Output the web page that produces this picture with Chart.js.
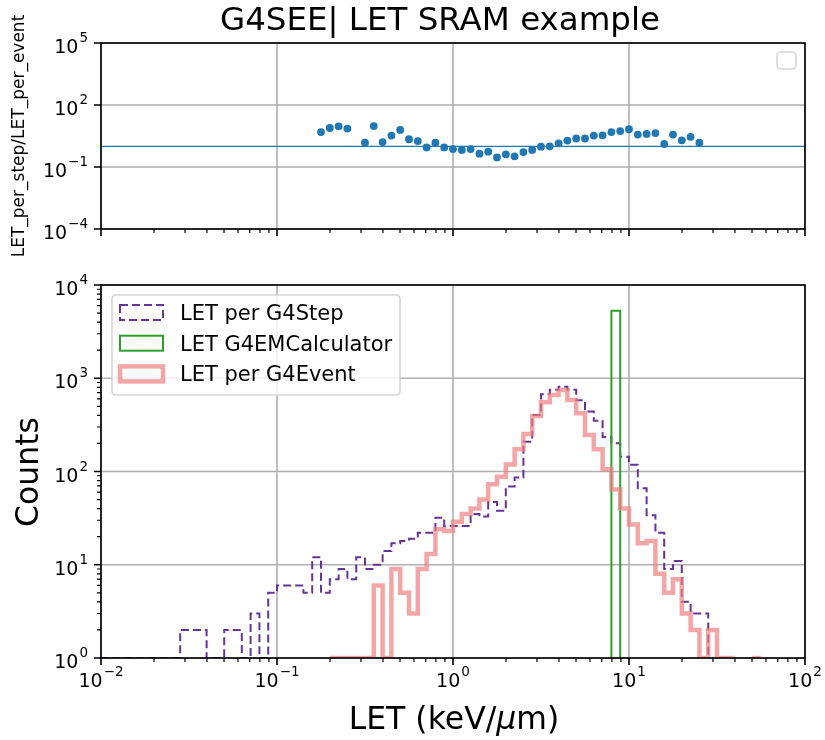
<!DOCTYPE html>
<html>
<head>
<meta charset="utf-8">
<title>G4SEE LET SRAM example</title>
<script src="https://cdn.jsdelivr.net/npm/chart.js@4.4.0/dist/chart.umd.min.js"></script>
<style>
  body { margin: 0; background: #fff; }
  #wrap { position: relative; width: 825px; height: 740px; }
  canvas { position: absolute; left: 0; top: 0; }
</style>
</head>
<body>
<div id="wrap">
  <canvas id="ratioChart" width="825" height="740"></canvas>
  <canvas id="letChart" width="825" height="740"></canvas>
</div>
<script>
// LET histogram bin edges in keV/um (20 log bins per decade)
const binEdges = [
  0.01, 0.01122, 0.01259, 0.01413, 0.01585, 0.01778, 0.01995, 0.02239, 0.02512, 0.02818,
  0.03162, 0.03548, 0.03981, 0.04467, 0.05012, 0.05623, 0.0631, 0.07079, 0.07943, 0.08913,
  0.1, 0.1122, 0.1259, 0.1413, 0.1585, 0.1778, 0.1995, 0.2239, 0.2512, 0.2818,
  0.3162, 0.3548, 0.3981, 0.4467, 0.5012, 0.5623, 0.631, 0.7079, 0.7943, 0.8913,
  1, 1.122, 1.259, 1.413, 1.585, 1.778, 1.995, 2.239, 2.512, 2.818,
  3.162, 3.548, 3.981, 4.467, 5.012, 5.623, 6.31, 7.079, 7.943, 8.913,
  10, 11.22, 12.59, 14.13, 15.85, 17.78, 19.95, 22.39, 25.12, 28.18,
  31.62, 35.48, 39.81, 44.67, 50.12, 56.23, 63.1, 70.79, 79.43, 89.13,
  100
];

// counts per bin, null = empty bin
const stepCounts = [
  1, 1, 1, 1, 1, 1, 1, 1, 1, 2,
  2, 2, 1, 1, 2, 2, 1, 3, 1, 5,
  6, 6, 6, 5, 12, 5, 7, 9, 7, 12,
  9, 10, 14, 17, 18, 19, 22, 22, 32, 26,
  26, 26, 35, 33, 47, 38, 69, 86, 209, 404,
  675, 755, 812, 755, 580, 440, 351, 235, 201, 144,
  118, 66, 34, 22, 9, 11, 4, 3, 3, null,
  null, null, null, null, null, null, null, null, null, null
];
const calcCounts = [
  null, null, null, null, null, null, null, null, null, null,
  null, null, null, null, null, null, null, null, null, null,
  null, null, null, null, null, null, null, null, null, null,
  null, null, null, null, null, null, null, null, null, null,
  null, null, null, null, null, null, null, null, null, null,
  null, null, null, null, null, null, null, null, 5300, null,
  null, null, null, null, null, null, null, null, null, null,
  null, null, null, null, null, null, null, null, null, null
];
const eventCounts = [
  null, null, null, null, null, null, null, null, null, null,
  null, null, null, null, null, null, null, null, null, null,
  null, null, null, null, null, null, 1, 1, 1, 1,
  1, 6, 1, 9, 5, 3, 9, 13, 24, 23,
  29, 35, 40, 50, 73, 88, 119, 173, 252, 394,
  552, 661, 748, 585, 421, 246, 173, 106, 64, 40,
  27, 17, 18, 8, 5, 7, 3, 2, 1, 2,
  1, 1, null, null, 1, null, null, null, null, null
];

// LET_per_step / LET_per_event
const ratioX = [
  0.1778, 0.1995, 0.2239, 0.2512, 0.3162, 0.3548, 0.3981, 0.4467, 0.5012, 0.5623,
  0.631, 0.7079, 0.7943, 0.8913, 1, 1.122, 1.259, 1.413, 1.585, 1.778,
  1.995, 2.239, 2.512, 2.818, 3.162, 3.548, 3.981, 4.467, 5.012, 5.623,
  6.31, 7.079, 7.943, 8.913, 10, 11.22, 12.59, 14.13, 15.85, 17.78,
  19.95, 22.39, 25.12
];
const ratioY = [
  4.9, 7.7, 9.3, 7.2, 1.5, 9.6, 1.6, 3.3, 6.2, 2.2,
  1.8, 0.89, 1.5, 0.89, 0.74, 0.67, 0.74, 0.44, 0.55, 0.29,
  0.41, 0.33, 0.53, 0.67, 0.96, 1.0, 1.4, 1.9, 2.4, 2.4,
  3.3, 3.4, 4.9, 5.5, 6.7, 3.7, 4.0, 4.4, 1.3, 3.7,
  1.95, 2.9, 1.5
];
const ratioRef = 1;

// axis ticks
const letTicks = [0.01, 0.1, 1, 10, 100];
const letTickExp = ['\u22122', '\u22121', '0', '1', '2'];
const ratioTicks = [1e-4, 1e-1, 1e2, 1e5];
const ratioTickExp = ['\u22124', '\u22121', '2', '5'];
const countTicks = [1, 10, 100, 1000, 10000];
const countTickExp = ['0', '1', '2', '3', '4'];

const FONT = '"DejaVu Sans", "Liberation Sans", sans-serif';
const GRID = '#b0b0b0';
const PURPLE = '#663399';
const GREEN = '#2ca02c';
const PINK = 'rgba(240,128,128,0.7)';
const BLUE = '#1f77b4';

// outline of a step histogram; empty bins break the line
function stepOutline(edges, counts) {
  const pts = [];
  counts.forEach((c, i) => {
    if (c == null) return;
    const prev = i > 0 ? counts[i - 1] : null;
    const next = i < counts.length - 1 ? counts[i + 1] : null;
    if (prev == null) pts.push({ x: edges[i], y: 1 });
    pts.push({ x: edges[i], y: c }, { x: edges[i + 1], y: c });
    if (next == null) pts.push({ x: edges[i + 1], y: 1 }, { x: edges[i + 1], y: null });
  });
  return pts;
}

function minorOf(majors) {
  const out = [];
  for (let i = 0; i < majors.length - 1; i++) {
    for (let m = 2; m <= 9; m++) out.push(majors[i] * m);
  }
  return out;
}

// "10" with a raised exponent, mathtext style
function powLabel(ctx, exp, x, y, align) {
  ctx.font = '19px ' + FONT;
  const wb = ctx.measureText('10').width;
  ctx.font = '13.5px ' + FONT;
  const we = ctx.measureText(exp).width;
  const w = wb + we + 1;
  let x0 = x;
  if (align === 'center') x0 = x - w / 2;
  else if (align === 'right') x0 = x - w;
  ctx.textAlign = 'left';
  ctx.textBaseline = 'alphabetic';
  ctx.fillStyle = '#000';
  ctx.font = '19px ' + FONT;
  ctx.fillText('10', x0, y);
  ctx.font = '13.5px ' + FONT;
  ctx.fillText(exp, x0 + wb + 1, y - 11);
}

function roundRect(ctx, x, y, w, h, r) {
  ctx.beginPath();
  ctx.moveTo(x + r, y);
  ctx.arcTo(x + w, y, x + w, y + h, r);
  ctx.arcTo(x + w, y + h, x, y + h, r);
  ctx.arcTo(x, y + h, x, y, r);
  ctx.arcTo(x, y, x + w, y, r);
  ctx.closePath();
}

function axesDecor(cfg) {
  return {
    id: 'axesDecor',
    beforeDatasetsDraw(chart) {
      const { ctx, chartArea: a, scales: { x, y } } = chart;
      ctx.save();
      ctx.strokeStyle = GRID;
      ctx.lineWidth = 1.6;
      ctx.beginPath();
      cfg.xTicks.forEach(v => {
        const px = x.getPixelForValue(v);
        ctx.moveTo(px, a.top); ctx.lineTo(px, a.bottom);
      });
      cfg.yTicks.forEach(v => {
        const py = y.getPixelForValue(v);
        ctx.moveTo(a.left, py); ctx.lineTo(a.right, py);
      });
      ctx.stroke();
      ctx.restore();
    },
    afterDraw(chart) {
      const { ctx, chartArea: a, scales: { x, y } } = chart;
      ctx.save();
      ctx.strokeStyle = '#000';
      // ticks
      ctx.lineWidth = 1.6;
      ctx.beginPath();
      cfg.xTicks.forEach(v => {
        const px = x.getPixelForValue(v);
        ctx.moveTo(px, a.bottom); ctx.lineTo(px, a.bottom + 7);
      });
      cfg.yTicks.forEach(v => {
        const py = y.getPixelForValue(v);
        ctx.moveTo(a.left, py); ctx.lineTo(a.left - 7, py);
      });
      ctx.stroke();
      ctx.lineWidth = 1.2;
      ctx.beginPath();
      minorOf(cfg.xTicks).forEach(v => {
        const px = x.getPixelForValue(v);
        ctx.moveTo(px, a.bottom); ctx.lineTo(px, a.bottom + 4);
      });
      if (cfg.yMinor) {
        minorOf(cfg.yTicks).forEach(v => {
          const py = y.getPixelForValue(v);
          ctx.moveTo(a.left, py); ctx.lineTo(a.left - 4, py);
        });
      }
      ctx.stroke();
      // spines
      ctx.lineWidth = 1.6;
      ctx.strokeRect(a.left, a.top, a.right - a.left, a.bottom - a.top);
      // tick labels
      if (cfg.xExp) {
        cfg.xTicks.forEach((v, i) => powLabel(ctx, cfg.xExp[i], x.getPixelForValue(v), a.bottom + 29, 'center'));
      }
      cfg.yTicks.forEach((v, i) => powLabel(ctx, cfg.yExp[i], a.left - 13, y.getPixelForValue(v) + 10, 'right'));
      if (cfg.extra) cfg.extra(chart);
      ctx.restore();
    }
  };
}

function rotatedText(ctx, text, x, y, size) {
  ctx.save();
  ctx.translate(x, y);
  ctx.rotate(-Math.PI / 2);
  ctx.font = size + 'px ' + FONT;
  ctx.fillStyle = '#000';
  ctx.textAlign = 'center';
  ctx.textBaseline = 'alphabetic';
  ctx.fillText(text, 0, 0);
  ctx.restore();
}

const baseOptions = {
  responsive: false,
  animation: false,
  events: [],
  plugins: { legend: { display: false }, tooltip: { enabled: false } }
};

// upper panel: ratio of the two LET estimates
new Chart(document.getElementById('ratioChart'), {
  type: 'scatter',
  data: {
    datasets: [{
      type: 'line',
      data: [{ x: letTicks[0], y: ratioRef }, { x: letTicks[letTicks.length - 1], y: ratioRef }],
      borderColor: BLUE,
      borderWidth: 1.4,
      pointRadius: 0,
      order: 2
    }, {
      data: ratioX.map((v, i) => ({ x: v, y: ratioY[i] })),
      backgroundColor: BLUE,
      borderWidth: 0,
      pointRadius: 3.9,
      order: 1
    }]
  },
  options: {
    ...baseOptions,
    layout: { padding: { left: 101, right: 20, top: 43, bottom: 511 } },
    scales: {
      x: { type: 'logarithmic', min: 0.01, max: 100, display: false },
      y: { type: 'logarithmic', min: 1e-4, max: 1e5, display: false }
    }
  },
  plugins: [axesDecor({
    xTicks: letTicks, yTicks: ratioTicks, yExp: ratioTickExp, yMinor: false,
    extra(chart) {
      const ctx = chart.ctx;
      ctx.font = '32.5px ' + FONT;
      ctx.fillStyle = '#000';
      ctx.textAlign = 'center';
      ctx.textBaseline = 'alphabetic';
      ctx.fillText('G4SEE| LET SRAM example', 440, 30);
      rotatedText(ctx, 'LET_per_step/LET_per_event', 24, 136, 17);
      // empty legend box
      roundRect(ctx, 777, 52, 19, 17, 4);
      ctx.fillStyle = 'rgba(255,255,255,0.8)';
      ctx.fill();
      ctx.strokeStyle = '#d6d6d6';
      ctx.lineWidth = 1.6;
      ctx.stroke();
    }
  })]
});

// lower panel: LET spectra
new Chart(document.getElementById('letChart'), {
  type: 'line',
  data: {
    datasets: [{
      label: 'LET per G4Step',
      data: stepOutline(binEdges, stepCounts),
      borderColor: PURPLE,
      borderWidth: 2,
      borderDash: [8, 4],
      order: 3
    }, {
      label: 'LET G4EMCalculator',
      data: stepOutline(binEdges, calcCounts),
      borderColor: GREEN,
      borderWidth: 2,
      order: 2
    }, {
      label: 'LET per G4Event',
      data: stepOutline(binEdges, eventCounts),
      borderColor: PINK,
      borderWidth: 4.5,
      order: 1
    }]
  },
  options: {
    ...baseOptions,
    elements: { point: { radius: 0 }, line: { borderJoinStyle: 'miter', tension: 0, fill: false } },
    layout: { padding: { left: 101, right: 20, top: 285, bottom: 82 } },
    scales: {
      x: { type: 'logarithmic', min: 0.01, max: 100, display: false },
      y: { type: 'logarithmic', min: 1, max: 10000, display: false }
    }
  },
  plugins: [axesDecor({
    xTicks: letTicks, xExp: letTickExp, yTicks: countTicks, yExp: countTickExp, yMinor: true,
    extra(chart) {
      const ctx = chart.ctx;
      rotatedText(ctx, 'Counts', 38, 472, 31.5);
      // x axis label with italic mu
      const parts = [['LET (keV/', ''], ['\u03bc', 'italic '], ['m)', '']];
      let total = 0;
      parts.forEach(p => { ctx.font = p[1] + '31.5px ' + FONT; total += ctx.measureText(p[0]).width; });
      let xp = 454 - total / 2;
      ctx.fillStyle = '#000';
      ctx.textAlign = 'left';
      ctx.textBaseline = 'alphabetic';
      parts.forEach(p => {
        ctx.font = p[1] + '31.5px ' + FONT;
        ctx.fillText(p[0], xp, 729);
        xp += ctx.measureText(p[0]).width;
      });
      // legend
      roundRect(ctx, 112, 295, 288, 100, 4);
      ctx.fillStyle = 'rgba(255,255,255,0.8)';
      ctx.fill();
      ctx.strokeStyle = '#d6d6d6';
      ctx.lineWidth = 1.6;
      ctx.setLineDash([]);
      ctx.stroke();
      chart.data.datasets.forEach((ds, i) => {
        const cy = 312.5 + i * 30.7;
        ctx.save();
        ctx.strokeStyle = ds.borderColor;
        ctx.lineWidth = ds.borderWidth;
        ctx.setLineDash(ds.borderDash || []);
        ctx.lineJoin = 'miter';
        ctx.strokeRect(120, cy - 7.5, 43, 15);
        ctx.restore();
        ctx.font = '21px ' + FONT;
        ctx.fillStyle = '#000';
        ctx.textAlign = 'left';
        ctx.textBaseline = 'alphabetic';
        ctx.fillText(ds.label, 180, cy + 7.5);
      });
    }
  })]
});
</script>
</body>
</html>
